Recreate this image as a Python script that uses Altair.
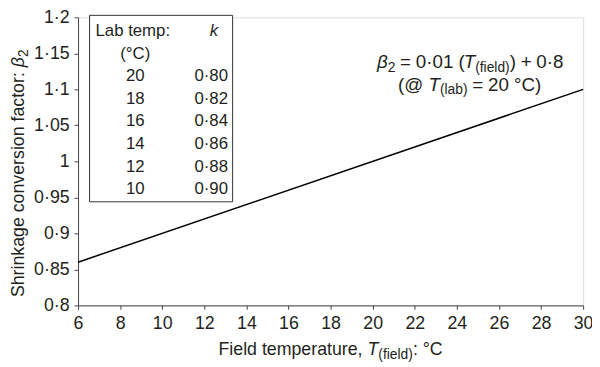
import altair as alt
import pandas as pd

# ---- data ----
field_temp = [6, 30]
beta2 = [0.86, 1.10]
x_ticks = [6, 8, 10, 12, 14, 16, 18, 20, 22, 24, 26, 28, 30]
y_ticks = [0.8, 0.85, 0.9, 0.95, 1.0, 1.05, 1.1, 1.15, 1.2]
lab_temps = ["20", "18", "16", "14", "12", "10"]
k_values = ["0·80", "0·82", "0·84", "0·86", "0·88", "0·90"]

W, H = 512, 292
FONT = "Liberation Sans"
TXT = "#231f20"
FS = 18
SUB = 14

ADV = {' ': 278, '(': 333, ')': 333, '=': 584, '+': 584, '@': 1015, '°': 400,
       '·': 278, ',': 278, ':': 278, '.': 278, 'C': 722, 'F': 611, 'S': 667,
       'T': 611, 'a': 556, 'b': 556, 'c': 500, 'd': 556, 'e': 556, 'f': 278,
       'g': 556, 'h': 556, 'i': 222, 'k': 500, 'l': 222, 'm': 833, 'n': 556,
       'o': 556, 'p': 556, 'r': 333, 's': 500, 't': 278, 'u': 556, 'v': 500,
       'β': 575}


def tw(s, size):
    return sum(ADV.get(c, 556) for c in s) * size / 1000.0


one = pd.DataFrame({"a": [0]})


def seg_w(seg):
    if seg[0] == "GAP":
        return seg[1]
    return tw(seg[0], seg[1])


def run(segments, cx, by, angle=0, suboff=4):
    """segments: (text, size, italic, sub) or ("GAP", px). Centered at cx along reading dir."""
    total = sum(seg_w(s) for s in segments)
    marks = []
    pos = -total / 2
    for seg in segments:
        if seg[0] == "GAP":
            pos += seg[1]
            continue
        t, s, it, sub = seg
        lead = len(t) - len(t.lstrip(" "))
        start = pos + tw(" " * lead, s)
        off = suboff if sub else 0
        if angle == 0:
            x, y = cx + start, by + off
        else:  # rotated 270: reading upward; cx = vertical centre, by = baseline x
            x, y = by + off, cx - start
        marks.append(
            alt.Chart(one).mark_text(
                text=t.strip(" "), font=FONT, fontSize=s,
                fontStyle="italic" if it else "normal",
                color=TXT, align="left", baseline="alphabetic", angle=angle,
            ).encode(x=alt.value(x), y=alt.value(y))
        )
        pos += tw(t, s)
    return marks


line_df = pd.DataFrame({"T": field_temp, "b": beta2})
axis_common = dict(title=None, grid=False, labelFont=FONT, labelFontSize=FS, labelColor=TXT,
                   labelPadding=5, tickSize=4, domainColor="#444", tickColor="#444",
                   labelFlush=False)
line = alt.Chart(line_df).mark_line(color="black", strokeWidth=1.5).encode(
    x=alt.X("T:Q", scale=alt.Scale(domain=[6, 30], nice=False, zero=False),
            axis=alt.Axis(values=x_ticks, **axis_common)),
    y=alt.Y("b:Q", scale=alt.Scale(domain=[0.8, 1.2], nice=False, zero=False),
            axis=alt.Axis(values=y_ticks,
                          labelExpr="replace(format(datum.value, '.2~f'), '.', '·')",
                          **axis_common)),
)

box = alt.Chart(one).mark_rect(fill="white", stroke="#333", strokeWidth=1).encode(
    x=alt.value(11.7), x2=alt.value(156.7), y=alt.value(-2), y2=alt.value(187))

tbl_df = pd.DataFrame({"row": list(range(2, 8)), "lab": lab_temps, "k": k_values})
yrow = alt.Y("row:Q", scale=alt.Scale(domain=[0, 7], range=[14, 14 + 7 * 22.9]), axis=None)
col_lab = alt.Chart(tbl_df).mark_text(font=FONT, fontSize=17, color=TXT, align="center",
                                      baseline="middle").encode(
    x=alt.value(58), y=yrow, text="lab:N")
col_k = alt.Chart(tbl_df).mark_text(font=FONT, fontSize=17, color=TXT, align="right",
                                    baseline="middle").encode(
    x=alt.value(152), y=yrow, text="k:N")

hdr = [
    alt.Chart(one).mark_text(text="Lab temp:", font=FONT, fontSize=17, color=TXT, align="left",
                             baseline="middle").encode(x=alt.value(17.7), y=alt.value(14)),
    alt.Chart(one).mark_text(text="(°C)", font=FONT, fontSize=17, color=TXT, align="center",
                             baseline="middle").encode(x=alt.value(58), y=alt.value(36.9)),
    alt.Chart(one).mark_text(text="k", font=FONT, fontSize=17, fontStyle="italic", color=TXT,
                             align="center", baseline="middle").encode(x=alt.value(137.7), y=alt.value(14)),
]

EF = 19
ES = 14
G = 4.8
eq1 = run([("β", EF, True, False), ("2", ES, False, True), ("GAP", G), ("=", EF, False, False),
           ("GAP", G), ("0·01 (", EF, False, False), ("T", EF, True, False),
           ("(field)", ES, False, True), (")", EF, False, False), ("GAP", G),
           ("+", EF, False, False), ("GAP", G), ("0·8", EF, False, False)],
          397, 51.5, suboff=3.5)
eq2 = run([("(@ ", EF, False, False), ("T", EF, True, False), ("(lab)", ES, False, True),
           ("GAP", G), ("=", EF, False, False), ("GAP", G), ("20 °C)", EF, False, False)],
          397, 74.5, suboff=3.5)

xtitle = run([("Field temperature, ", FS, False, False), ("T", FS, True, False),
              ("(field)", SUB, False, True), (": °C", FS, False, False)], 256, 342)
ytitle = run([("Shrinkage conversion factor: ", FS, False, False), ("β", FS, True, False),
              ("2", SUB, False, True)], 158, -54.5, angle=270)

layers = [line, box, col_lab, col_k] + hdr + eq1 + eq2 + xtitle + ytitle

chart = alt.layer(*layers).resolve_scale(y="independent").properties(
    width=W, height=H,
    autosize=alt.AutoSizeParams(type="none"),
    padding={"left": 71, "top": 7, "right": 9, "bottom": 60},
).configure_view(stroke=None).configure(background="white")

chart.save("out.html", embed_options={"renderer": "svg", "actions": False})
